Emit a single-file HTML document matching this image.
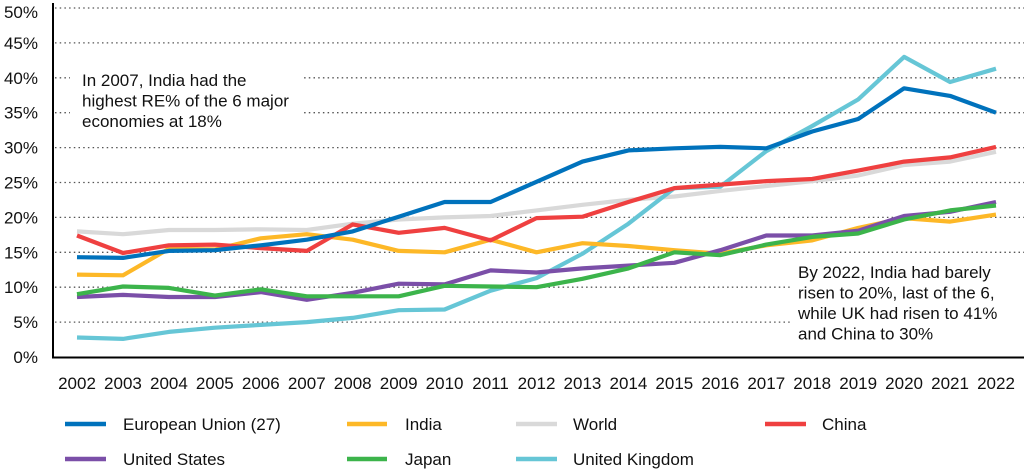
<!DOCTYPE html>
<html><head><meta charset="utf-8"><style>
html,body{margin:0;padding:0;background:#fff;}
svg{display:block;font-family:"Liberation Sans",Arial,sans-serif;}
</style></head><body>
<svg id="s" width="1024" height="472" xmlns="http://www.w3.org/2000/svg">
<g id="grid" stroke="#555" stroke-width="1.3" stroke-dasharray="1.5,3.2"></g>
<g id="ylab" font-size="17" fill="#111" text-anchor="end"></g>
<g id="xlab" font-size="17" fill="#111" text-anchor="middle"></g>
<rect x="70" y="62" width="234" height="70" fill="#fff"/>
<rect x="791" y="262" width="233" height="84" fill="#fff"/>
<text font-size="17" fill="#111"><tspan x="82" y="86">In 2007, India had the</tspan><tspan x="82" y="106.5">highest RE% of the 6 major</tspan><tspan x="82" y="127">economies at 18%</tspan></text>
<text font-size="17" fill="#111"><tspan x="798" y="278">By 2022, India had barely</tspan><tspan x="798" y="298.5">risen to 20%, last of the 6,</tspan><tspan x="798" y="319">while UK had risen to 41%</tspan><tspan x="798" y="339.5">and China to 30%</tspan></text>
<g id="lines" fill="none" stroke-width="4.2" stroke-linejoin="round"></g>
<line x1="53" y1="3" x2="53" y2="358" stroke="#000" stroke-width="2"/>
<line x1="52" y1="357.5" x2="1024" y2="357.5" stroke="#000" stroke-width="2"/>
<g font-size="17" fill="#111">
<line x1="65" y1="424" x2="106" y2="424" stroke="#0072bc" stroke-width="4.5"/><text x="123" y="430">European Union (27)</text>
<line x1="347" y1="424" x2="387" y2="424" stroke="#fdb827" stroke-width="4.5"/><text x="405" y="430">India</text>
<line x1="516" y1="424" x2="557" y2="424" stroke="#d9d9d9" stroke-width="4.5"/><text x="573" y="430">World</text>
<line x1="765" y1="424" x2="806" y2="424" stroke="#ef4040" stroke-width="4.5"/><text x="822" y="430">China</text>
<line x1="65" y1="459" x2="106" y2="459" stroke="#7b4fa8" stroke-width="4.5"/><text x="123" y="465">United States</text>
<line x1="347" y1="459" x2="387" y2="459" stroke="#3cb44b" stroke-width="4.5"/><text x="405" y="465">Japan</text>
<line x1="516" y1="459" x2="557" y2="459" stroke="#66c6d6" stroke-width="4.5"/><text x="573" y="465">United Kingdom</text>
</g>
</svg>
<script>
var NS="http://www.w3.org/2000/svg";
function y(v){return 357-v*6.98;}
function x(i){return 77+i*45.95;}
var g=document.getElementById("grid"),yl=document.getElementById("ylab"),xl=document.getElementById("xlab");
for(var v=0;v<=50;v+=5){
 if(v>0){var l=document.createElementNS(NS,"line");l.setAttribute("x1",55);l.setAttribute("x2",1024);l.setAttribute("y1",y(v));l.setAttribute("y2",y(v));g.appendChild(l);}
 var t=document.createElementNS(NS,"text");t.setAttribute("x",38);t.setAttribute("y",y(v)+(v==50?10:6));t.textContent=v+"%";yl.appendChild(t);
}
for(var i=0;i<21;i++){var t=document.createElementNS(NS,"text");t.setAttribute("x",x(i));t.setAttribute("y",389);t.textContent=2002+i;xl.appendChild(t);}
var S=[
["#d9d9d9",[18.0,17.6,18.2,18.2,18.3,18.2,19.1,19.7,20.0,20.2,21.0,21.8,22.5,23.0,23.8,24.5,25.2,26.0,27.5,28.0,29.4]],
["#66c6d6",[2.8,2.6,3.6,4.2,4.6,5.0,5.6,6.7,6.8,9.5,11.3,14.8,19.1,24.2,24.4,29.5,33.1,36.9,43.0,39.4,41.3]],
["#fdb827",[11.8,11.7,15.5,15.4,17.0,17.6,16.8,15.2,15.0,16.8,15.0,16.3,15.9,15.3,14.8,16.0,16.7,18.5,19.9,19.4,20.4]],
["#7b4fa8",[8.6,8.9,8.6,8.6,9.3,8.2,9.2,10.5,10.4,12.4,12.1,12.7,13.1,13.5,15.3,17.4,17.4,18.1,20.2,20.8,22.2]],
["#3cb44b",[9.0,10.1,9.9,8.8,9.7,8.7,8.7,8.7,10.2,10.1,10.0,11.2,12.7,15.0,14.6,16.1,17.2,17.7,19.7,21.0,21.7]],
["#ef4040",[17.4,14.9,16.0,16.1,15.6,15.2,19.0,17.8,18.5,16.7,19.9,20.1,22.2,24.2,24.7,25.2,25.5,26.7,28.0,28.6,30.1]],
["#0072bc",[14.3,14.2,15.2,15.3,16.0,16.8,18.0,20.1,22.2,22.2,25.1,28.0,29.6,29.9,30.1,29.9,32.3,34.1,38.5,37.4,35.0]]
];
var L=document.getElementById("lines");
S.forEach(function(s){var p=document.createElementNS(NS,"polyline");p.setAttribute("stroke",s[0]);
 p.setAttribute("points",s[1].map(function(v,i){return x(i).toFixed(1)+","+y(v).toFixed(1);}).join(" "));L.appendChild(p);});
</script>
</body></html>
